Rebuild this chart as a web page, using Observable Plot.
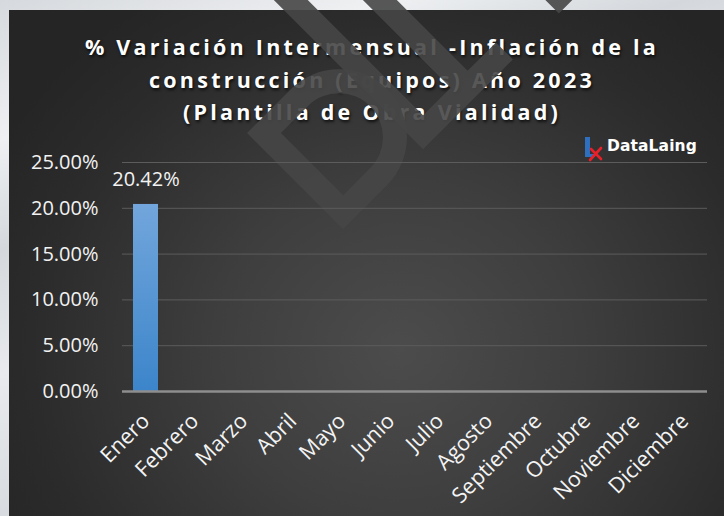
<!DOCTYPE html>
<html>
<head>
<meta charset="utf-8">
<script src="https://cdn.jsdelivr.net/npm/d3@7"></script>
<script src="https://cdn.jsdelivr.net/npm/@observablehq/plot@0.6"></script>
<style>
  html, body { margin: 0; padding: 0; }
  body { width: 724px; height: 516px; overflow: hidden; position: relative;
    background: linear-gradient(160deg, #d6d9dd 0%, #eef0f2 18%, #d4d8dc 32%, #e8eaed 48%, #d8dbdf 66%, #eceef0 84%, #d9dcdf 100%); }
  #panel { position: absolute; left: 9px; top: 10px; width: 715px; height: 506px;
    background: radial-gradient(ellipse 460px 420px at 390px 340px, #4c4c4c 0%, #3e3e3e 40%, #2b2b2b 80%, #252525 100%); }
  #title { position: absolute; left: 20px; top: 31px; width: 704px; text-align: center;
    font-family: "Open Sans", sans-serif; font-weight: 700; font-size: 21.5px; line-height: 32.5px;
    letter-spacing: 3.25px; color: #ffffff; text-shadow: 1px 2px 3px rgba(0,0,0,0.75); }
  #wm { position: absolute; left: 0; top: 0; }
  #chart { position: absolute; left: 0; top: 0; }
  #logo { position: absolute; left: 582px; top: 134px; }
  #logotext { position: absolute; left: 607px; top: 137px; font-family: "DejaVu Sans", sans-serif;
    font-weight: 700; font-size: 15.5px; color: #ffffff; letter-spacing: 0.1px; }
</style>
</head>
<body>
<div id="panel"></div>
<div id="title">% Variación Intermensual -Inflación de la<br>construcción (Equipos) Año 2023<br>(Plantilla de Obra Vialidad)</div>
<svg id="wm" width="724" height="516">
  <g transform="translate(247,133) rotate(-45)" fill="#464646" fill-opacity="0.9">
    <path fill-rule="evenodd" d="M0,0 L62,0 A68,68 0 0 1 62,136 L0,136 Z M24,24 L62,24 A44,44 0 0 1 62,112 L24,112 Z"/>
    <path d="M113,-110 L137,-110 L137,112 L176,112 L176,-40 L200,-40 L200,112 L240,112 L240,136 L113,136 Z"/>
    <path d="M305,-40 L329,-40 L329,112 L430,112 L430,136 L305,136 Z"/>
  </g>
</svg>
<div id="chart"></div>
<svg id="logo" width="24" height="28">
  <path d="M3,3 L8,3 L8,20 L13,20 L13,23 L3,23 Z" fill="#2f6fc0"/>
  <path d="M9,15 L19,25 M19,14 L8,26" stroke="#e8202a" stroke-width="2.6" stroke-linecap="round"/>
</svg>
<div id="logotext">DataLaing</div>
<script>
const months = ["Enero","Febrero","Marzo","Abril","Mayo","Junio","Julio","Agosto","Septiembre","Octubre","Noviembre","Diciembre"];
const values = [20.42, null, null, null, null, null, null, null, null, null, null, null];
const yTicks = [0, 5, 10, 15, 20, 25];

const data = months.map((m, i) => ({month: m, value: values[i]}));
const filled = data.filter(d => d.value != null);
const fmt = d => d.toFixed(2) + "%";

const plot = Plot.plot({
  width: 724,
  height: 516,
  marginTop: 162,
  marginBottom: 125,
  marginLeft: 122,
  marginRight: 17,
  style: {background: "transparent", overflow: "visible", fontFamily: "Open Sans, sans-serif"},
  x: {domain: months, paddingInner: 0.49, paddingOuter: 0.2, label: null},
  y: {domain: [0, 25], label: null},
  marks: [
    Plot.gridY(yTicks, {stroke: "#5c5c5c", strokeOpacity: 1, strokeWidth: 1}),
    Plot.barY(filled, {x: "month", y: "value", fill: "url(#barGrad)"}),
    Plot.ruleY([0], {stroke: "#8e8e8e", strokeWidth: 2.5}),
    Plot.text(filled, {x: "month", y: "value", text: d => fmt(d.value), dy: -25, fontSize: 20, fill: "#f2f2f2"}),
    Plot.axisY({ticks: yTicks, tickFormat: fmt, tickSize: 0, tickPadding: 24, fontSize: 20, fill: "#f2f2f2", label: null}),
    Plot.axisX({tickRotate: -45, tickSize: 0, tickPadding: 26, fontSize: 21.5, fill: "#f4f4f4", label: null})
  ]
});

const defs = d3.select(plot).insert("defs", ":first-child");
const g = defs.append("linearGradient").attr("id", "barGrad").attr("x1", 0).attr("y1", 0).attr("x2", 0).attr("y2", 1);
g.append("stop").attr("offset", "0%").attr("stop-color", "#72a6dc");
g.append("stop").attr("offset", "100%").attr("stop-color", "#3c85ca");

document.getElementById("chart").appendChild(plot);
</script>
</body>
</html>
